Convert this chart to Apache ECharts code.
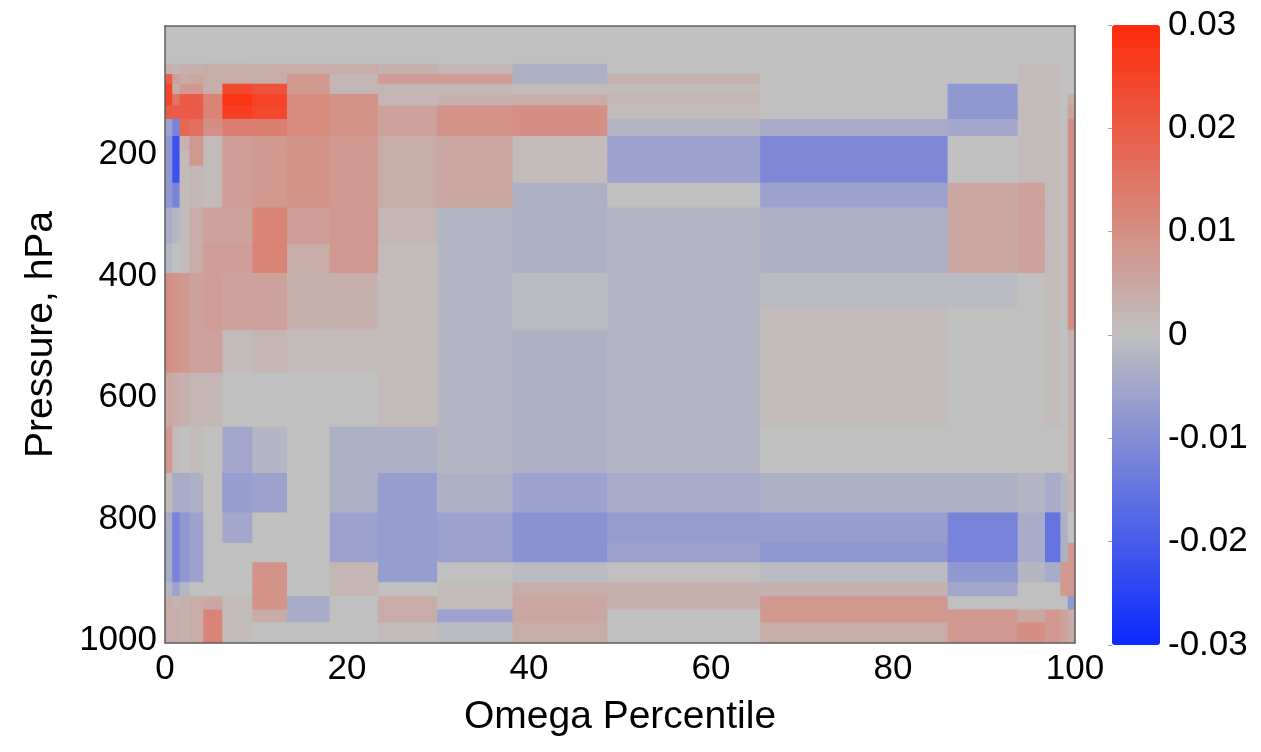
<!DOCTYPE html>
<html>
<head>
<meta charset="utf-8">
<title>Omega percentile vs pressure</title>
<script src="https://cdn.jsdelivr.net/npm/echarts@6/dist/echarts.min.js"></script>
<style>
  html, body { margin: 0; padding: 0; background: #fff; }
  #chart { width: 1261px; height: 752px; }
</style>
</head>
<body>
<div id="chart"></div>
<script>
// Bin edges along the omega-percentile axis (19 columns)
const percentileEdges = [0, 0.8, 1.6, 2.7, 4.2, 6.3, 9.6, 13.4, 18.1, 23.4, 29.9, 38.2, 48.6, 65.4, 86.0, 93.7, 96.7, 98.4, 99.2, 100];

// Layer edges in hPa (25 layers, top to bottom)
const pressureEdges = [50, 67, 83, 100, 119, 141, 169, 193, 218, 246, 287, 346, 395, 451, 489, 559, 648, 724, 789, 839, 871, 904, 927, 949, 970, 1004];

// Field values, one row per pressure layer, one entry per percentile bin
const fieldValues = [
  [0.003, 0.002, 0.003, 0.003, 0.004, 0.004, 0.004, 0.004, 0.004, 0.003, 0.002, -0.003, 0, 0, 0, 0.001, 0.001, 0, 0],
  [0.020, 0.006, 0.004, 0.005, 0.004, 0.004, 0.004, 0.008, 0.002, 0.007, 0.007, -0.003, 0.003, 0, 0, 0.001, 0.001, 0, 0],
  [0.025, 0.004, 0.008, 0.008, 0.004, 0.024, 0.022, 0.008, 0.002, 0.002, 0.002, 0.001, 0.001, 0, -0.008, 0.001, 0.001, 0, 0],
  [0.025, 0.015, 0.020, 0.020, 0.012, 0.028, 0.025, 0.011, 0.009, 0.002, 0.003, 0.004, 0.002, 0, -0.008, 0.001, 0.001, 0, 0.004],
  [0.020, 0.020, 0.020, 0.020, 0.012, 0.026, 0.024, 0.011, 0.009, 0.006, 0.009, 0.010, 0.001, 0, -0.008, 0.001, 0.001, 0, 0.006],
  [-0.006, -0.012, 0.018, 0.016, 0.010, 0.013, 0.013, 0.011, 0.009, 0.006, 0.009, 0.010, -0.002, -0.004, -0.005, 0.001, 0.001, 0, 0.010],
  [-0.008, -0.022, 0.003, 0.008, 0.001, 0.007, 0.008, 0.009, 0.008, 0.004, 0.005, 0.001, -0.006, -0.011, 0, 0.001, 0.001, 0, 0.010],
  [-0.008, -0.022, 0.001, 0.008, 0.001, 0.007, 0.008, 0.009, 0.008, 0.004, 0.005, 0.001, -0.006, -0.011, 0, 0.001, 0.001, 0, 0.010],
  [-0.008, -0.022, 0.001, 0.002, 0.001, 0.007, 0.008, 0.009, 0.008, 0.004, 0.005, 0.001, -0.006, -0.011, 0, 0.001, 0.001, 0, 0.010],
  [-0.008, -0.012, 0.001, 0.002, 0.001, 0.007, 0.008, 0.009, 0.008, 0.004, 0.005, -0.003, 0, -0.006, 0.005, 0.006, 0.001, 0, 0.010],
  [-0.004, -0.002, 0.001, 0.004, 0.006, 0.006, 0.012, 0.007, 0.008, 0.002, -0.002, -0.003, -0.002, -0.003, 0.005, 0.006, 0.001, 0, 0.010],
  [-0.002, 0, 0.001, 0.004, 0.007, 0.007, 0.012, 0.004, 0.008, 0.001, -0.002, -0.003, -0.002, -0.003, 0.005, 0.006, 0.001, 0, 0.010],
  [0.010, 0.009, 0.008, 0.006, 0.007, 0.006, 0.006, 0.003, 0.003, 0.001, -0.002, -0.001, -0.002, -0.001, -0.001, 0, 0.001, 0, 0.010],
  [0.010, 0.009, 0.008, 0.006, 0.007, 0.006, 0.006, 0.003, 0.003, 0.001, -0.002, -0.001, -0.002, 0.001, 0, 0, 0.001, 0, 0.010],
  [0.010, 0.009, 0.008, 0.006, 0.006, 0.001, 0.002, 0.001, 0.001, 0.001, -0.002, -0.003, -0.002, 0.001, 0, 0, 0.001, 0, 0.003],
  [0.005, 0.004, 0.003, 0.002, 0.002, 0, 0, 0, 0, 0.001, -0.002, -0.003, -0.002, 0.001, 0, 0, 0.001, 0, 0.003],
  [0.008, 0.001, 0, 0.001, 0, -0.005, -0.002, 0, -0.003, -0.003, -0.002, -0.003, -0.002, 0, 0, 0, 0, 0, 0.003],
  [0.001, -0.004, -0.004, -0.003, 0, -0.007, -0.006, 0, -0.003, -0.007, -0.003, -0.006, -0.004, -0.003, -0.003, -0.002, -0.004, -0.002, 0.002],
  [-0.004, -0.012, -0.008, -0.006, 0, -0.005, 0, 0, -0.006, -0.007, -0.006, -0.009, -0.007, -0.007, -0.012, -0.004, -0.015, -0.003, 0],
  [-0.004, -0.012, -0.008, -0.006, 0, 0, 0, 0, -0.006, -0.007, -0.006, -0.009, -0.006, -0.008, -0.012, -0.004, -0.015, -0.003, 0.008],
  [-0.004, -0.012, -0.008, -0.006, 0, 0, 0.009, 0, 0.002, -0.007, 0, -0.001, 0, -0.001, -0.008, -0.002, -0.004, 0.008, 0.008],
  [-0.002, -0.006, -0.002, 0, 0, 0, 0.009, 0, 0.002, 0, 0.001, 0.004, 0.003, 0.003, -0.005, 0, 0, 0.008, 0.008],
  [0.004, 0.002, 0.003, 0.004, 0.005, 0.001, 0.009, -0.004, 0, 0.004, 0.001, 0.005, 0.003, 0.008, 0, 0, 0, 0, -0.008],
  [0.004, 0.004, 0.003, 0.004, 0.012, 0.001, 0.004, -0.004, 0, 0.004, -0.006, 0.005, 0, 0.008, 0.008, 0.005, 0.008, 0.006, 0.004],
  [0.004, 0.004, 0.003, 0.004, 0.012, 0.001, 0, 0, 0, 0.001, -0.001, 0.004, 0, 0.004, 0.008, 0.010, 0.008, 0.006, 0.004]
];

// Tick labels
const percentileTicks = [0, 20, 40, 60, 80, 100];
const pressureTicks = [200, 400, 600, 800, 1000];
const colorTicks = [-0.03, -0.02, -0.01, 0, 0.01, 0.02, 0.03];

const FONT = 'Liberation Sans, Arial, Helvetica, sans-serif';
const FRAME = '#5e5e5e';

// Each cell: [x0, x1, p0, p1, value]
const cells = [];
fieldValues.forEach(function (row, i) {
  row.forEach(function (v, j) {
    cells.push([percentileEdges[j], percentileEdges[j + 1], pressureEdges[i], pressureEdges[i + 1], v]);
  });
});

function renderCell(params, api) {
  const a = api.coord([api.value(0), api.value(2)]);
  const b = api.coord([api.value(1), api.value(3)]);
  return {
    type: 'rect',
    shape: {
      x: Math.min(a[0], b[0]),
      y: Math.min(a[1], b[1]),
      width: Math.abs(b[0] - a[0]) + 0.6,
      height: Math.abs(b[1] - a[1]) + 0.6
    },
    style: { fill: api.visual('color') }
  };
}

const chart = echarts.init(document.getElementById('chart'), null, { renderer: 'canvas' });

chart.setOption({
  backgroundColor: '#ffffff',
  animation: false,
  textStyle: { fontFamily: FONT },
  grid: [
    { left: 165, top: 26, width: 910, height: 617, show: true, backgroundColor: '#c0c0c0', borderWidth: 0 },
    { left: 1112, top: 25, width: 48, height: 620, show: false }
  ],
  xAxis: [
    {
      gridIndex: 0, type: 'value', min: 0, max: 100, interval: 20, position: 'bottom', z: 10,
      axisLine: { show: true, onZero: false, lineStyle: { color: FRAME, width: 1.5 } },
      axisTick: { show: false },
      splitLine: { show: false },
      axisLabel: {
        fontSize: 35, color: '#000', margin: 9, fontFamily: FONT,
        customValues: percentileTicks
      },
      name: 'Omega Percentile', nameLocation: 'middle', nameGap: 55,
      nameTextStyle: { fontSize: 39, color: '#000', fontFamily: FONT }
    },
    {
      gridIndex: 0, type: 'value', min: 0, max: 100, position: 'top', z: 10,
      axisLine: { show: true, onZero: false, lineStyle: { color: FRAME, width: 1.5 } },
      axisTick: { show: false }, axisLabel: { show: false }, splitLine: { show: false }
    },
    { gridIndex: 1, type: 'value', min: 0, max: 1, show: false }
  ],
  yAxis: [
    {
      gridIndex: 0, type: 'value', inverse: true, min: -12, max: 1004, position: 'left', z: 10,
      axisLine: { show: true, onZero: false, lineStyle: { color: FRAME, width: 1.5 } },
      axisTick: { show: false },
      splitLine: { show: false },
      axisLabel: {
        fontSize: 35, color: '#000', margin: 8, fontFamily: FONT,
        customValues: pressureTicks,
        formatter: function (v) { return String(v); }
      },
      name: 'Pressure, hPa', nameLocation: 'middle', nameGap: 104, nameRotate: 90,
      nameTextStyle: { fontSize: 39, color: '#000', fontFamily: FONT }
    },
    {
      gridIndex: 0, type: 'value', inverse: true, min: -12, max: 1004, position: 'right', z: 10,
      axisLine: { show: true, onZero: false, lineStyle: { color: FRAME, width: 1.5 } },
      axisTick: { show: false }, axisLabel: { show: false }, splitLine: { show: false }
    },
    {
      gridIndex: 1, type: 'value', min: -0.03, max: 0.03, position: 'right', z: 10,
      axisLine: { show: false },
      axisTick: {
        show: true, inside: true, length: 4, customValues: colorTicks,
        lineStyle: { color: 'rgba(90,40,40,0.45)', width: 1 }
      },
      splitLine: { show: false },
      axisLabel: {
        fontSize: 35, color: '#000', margin: 8, fontFamily: FONT,
        customValues: colorTicks,
        formatter: function (v) { return String(Math.round(v * 100) / 100); }
      }
    }
  ],
  visualMap: {
    type: 'continuous',
    min: -0.03,
    max: 0.03,
    dimension: 4,
    seriesIndex: 0,
    calculable: false,
    orient: 'vertical',
    left: 1112,
    top: 25,
    itemWidth: 48,
    itemHeight: 620,
    padding: 0,
    text: null,
    inRange: { color: ['#0a2aff', '#c0c0c0', '#ff2a0a'] }
  },
  series: [
    {
      type: 'custom',
      xAxisIndex: 0,
      yAxisIndex: 0,
      renderItem: renderCell,
      encode: { x: [0, 1], y: [2, 3] },
      clip: true,
      data: cells
    }
  ]
});
</script>
</body>
</html>
